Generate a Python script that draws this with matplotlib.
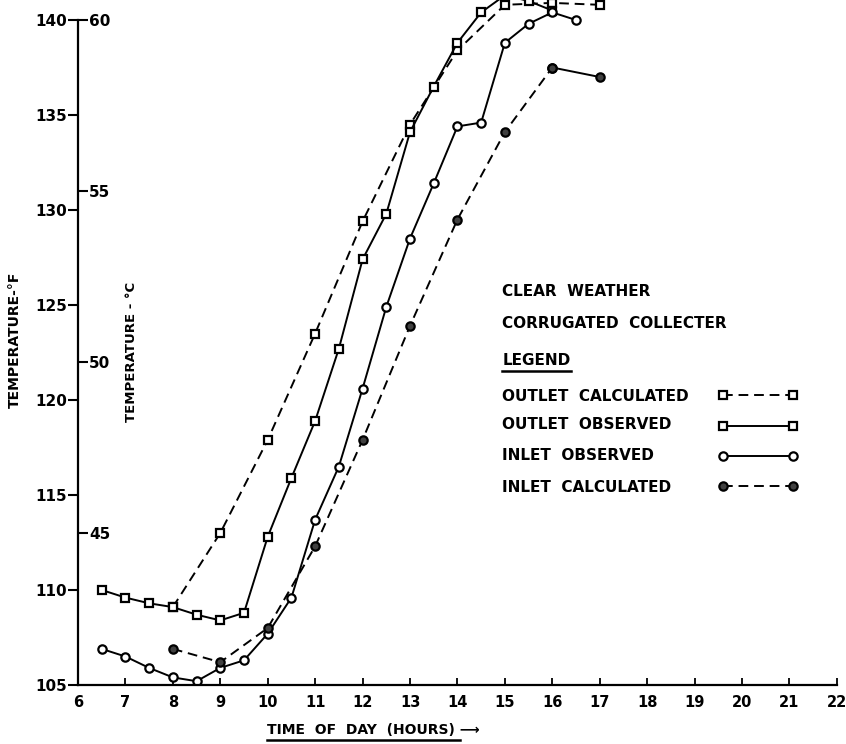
import numpy as np
import matplotlib.pyplot as plt
from matplotlib.lines import Line2D

plt.rcParams['font.family'] = ['DejaVu Sans']
plt.rcParams['font.weight'] = 'bold'
plt.rcParams['axes.labelweight'] = 'bold'

# time of day (hours) and temperatures (deg F)
outlet_obs_t = [6.5, 7, 7.5, 8, 8.5, 9, 9.5, 10, 10.5, 11, 11.5, 12, 12.5, 13, 13.5, 14, 14.5, 15, 15.5, 16]
outlet_obs = [110.0, 109.6, 109.3, 109.1, 108.7, 108.4, 108.8, 112.8, 115.9, 118.9, 122.7, 127.4,
              129.8, 134.1, 136.5, 138.8, 140.4, 141.3, 141.0, 140.5]

outlet_calc_t = [8, 9, 10, 11, 12, 13, 14, 15, 16, 17]
outlet_calc = [109.1, 113.0, 117.9, 123.5, 129.4, 134.5, 138.4, 140.8, 140.9, 140.8]

inlet_obs_t = [6.5, 7, 7.5, 8, 8.5, 9, 9.5, 10, 10.5, 11, 11.5, 12, 12.5, 13, 13.5, 14, 14.5, 15, 15.5, 16, 16.5]
inlet_obs = [106.9, 106.5, 105.9, 105.4, 105.2, 105.9, 106.3, 107.7, 109.6, 113.7, 116.5, 120.6,
             124.9, 128.5, 131.4, 134.4, 134.6, 138.8, 139.8, 140.4, 140.0]

inlet_calc_t = [8, 9, 10, 11, 12, 13, 14, 15, 16, 17]
inlet_calc = [106.9, 106.2, 108.0, 112.3, 117.9, 123.9, 129.5, 134.1, 137.5, 137.0]

labels = ['OUTLET  CALCULATED', 'OUTLET  OBSERVED', 'INLET  OBSERVED', 'INLET  CALCULATED']
f_ticks = [105, 110, 115, 120, 125, 130, 135, 140]
c_ticks = [45, 50, 55, 60]
hours = np.arange(6, 23)

fig = plt.figure(figsize=(8.46, 7.44), dpi=100)
ax = fig.add_axes([0.0922, 0.0793, 0.897, 0.9207])

dash = (5, 3)
lw = 1.4
sq = dict(marker='s', ms=5.5, mfc='white', mec='black', mew=1.6)
ci = dict(marker='o', ms=6, mfc='white', mec='black', mew=1.6)
cf = dict(marker='o', ms=6, mfc='0.25', mec='black', mew=1.6)

h1, = ax.plot(outlet_calc_t, outlet_calc, color='black', lw=lw, dashes=dash, **sq)
h2, = ax.plot(outlet_obs_t, outlet_obs, color='black', lw=lw, **sq)
h3, = ax.plot(inlet_obs_t, inlet_obs, color='black', lw=lw, **ci)
h4, = ax.plot(inlet_calc_t[:-1], inlet_calc[:-1], color='black', lw=lw, dashes=dash, **cf)
ax.plot(inlet_calc_t[-2:], inlet_calc[-2:], color='black', lw=lw, **cf)

ax.set_xlim(6, 22)
ax.set_ylim(105, 105 + 685 / 19)
ax.spines['top'].set_visible(False)
ax.spines['right'].set_visible(False)
ax.spines['left'].set_bounds(105, 140)
ax.spines['left'].set_linewidth(1.6)
ax.spines['bottom'].set_linewidth(1.6)

ax.set_xticks(hours)
ax.set_yticks(f_ticks)
ax.tick_params(axis='x', direction='in', length=5, width=1.3, labelsize=10.5, pad=7)
ax.tick_params(axis='y', direction='out', length=7, width=1.5, labelsize=11, pad=1)

# celsius scale on the inner side of the same spine
sec = ax.secondary_yaxis(0.0, functions=(lambda f: (f - 32) * 5 / 9, lambda c: c * 9 / 5 + 32))
sec.set_alignment('right')
sec.set_yticks(c_ticks)
sec.spines['right'].set_visible(False)
sec.tick_params(axis='y', direction='out', length=7, width=1.5, labelsize=11, pad=1)
sec.set_ylabel('TEMPERATURE - °C', fontsize=9.5, rotation=90)
sec.yaxis.set_label_coords(0.062, 0.486, transform=ax.transAxes)

ax.set_ylabel('TEMPERATURE-°F', fontsize=10)
ax.yaxis.set_label_coords(-0.074, 0.504)

xlab = ax.set_xlabel('TIME  OF  DAY  (HOURS) ⟶', fontsize=10)
ax.xaxis.set_label_coords(0.389, -0.055)

tx = 14.95
fs = 11
ax.text(tx, 125.7, 'CLEAR  WEATHER', fontsize=fs, va='center')
ax.text(tx, 124.05, 'CORRUGATED  COLLECTER', fontsize=fs, va='center')
leg_title = ax.text(tx, 122.1, 'LEGEND', fontsize=fs, va='center')
for y, lab in zip([120.2, 118.7, 117.1, 115.4], labels):
    ax.text(tx, y, lab, fontsize=fs, va='center')

leg = ax.legend([h1, h2, h3, h4], [''] * 4, numpoints=2, frameon=False,
                loc='upper left', bbox_to_anchor=(19.5, 120.6), bbox_transform=ax.transData,
                handlelength=5.4, handletextpad=0, borderpad=0, borderaxespad=0,
                labelspacing=1.05, fontsize=10.5)

# underlines
fig.canvas.draw()
r = fig.canvas.get_renderer()
inv = fig.transFigure.inverted()
for t, off, right in ((leg_title, 3, 0), (xlab, 3, -20)):
    bb = t.get_window_extent(r)
    (x0, y0), (x1, _) = inv.transform([(bb.x0, bb.y0 - off), (bb.x1 + right, bb.y0)])
    fig.add_artist(Line2D([x0, x1], [y0, y0], color='black', lw=1.8, transform=fig.transFigure))

fig.savefig('out.png', dpi=100)
